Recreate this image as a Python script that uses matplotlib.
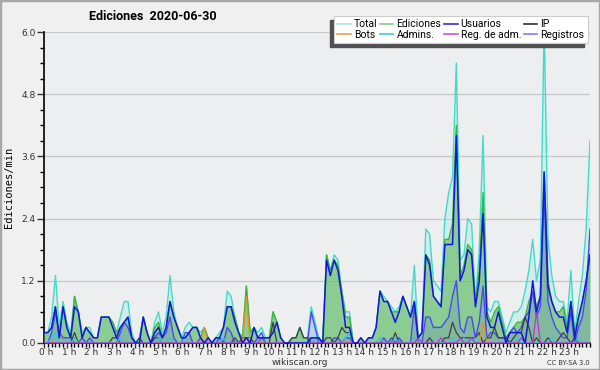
import numpy as np
import matplotlib
matplotlib.use("Agg")
import matplotlib.pyplot as plt
import matplotlib.transforms as mtransforms
from matplotlib.lines import Line2D
from matplotlib.patches import Rectangle
from matplotlib.ticker import MultipleLocator, FormatStrFormatter

# ediciones por minuto, promedio cada 10 minutos (144 puntos)
total = [0.2, 0.2, 0.5, 1.3, 0.3, 0.8, 0.4, 0.2, 0.9, 0.6, 0.2, 0.3,
         0.3, 0.1, 0.1, 0.5, 0.5, 0.5, 0.4, 0.2, 0.5, 0.8, 0.8, 0.2,
         0.0, 0.1, 0.5, 0.2, 0.0, 0.4, 0.6, 0.2, 0.5, 1.3, 0.6, 0.3,
         0.1, 0.3, 0.4, 0.3, 0.3, 0.2, 0.3, 0.1, 0.0, 0.1, 0.2, 0.3,
         1.0, 0.9, 0.5, 0.2, 0.1, 1.1, 0.2, 0.3, 0.2, 0.3, 0.1, 0.1,
         0.6, 0.4, 0.1, 0.0, 0.0, 0.1, 0.1, 0.3, 0.1, 0.1, 0.7, 0.4,
         0.1, 0.0, 1.7, 1.4, 1.7, 1.6, 1.0, 0.6, 0.6, 0.0, 0.0, 0.1,
         0.0, 0.1, 0.1, 0.3, 1.0, 0.9, 0.8, 0.7, 0.6, 0.7, 0.9, 0.7,
         0.5, 1.5, 0.1, 0.2, 2.2, 2.1, 1.2, 1.1, 1.0, 2.4, 2.9, 3.2,
         5.4, 1.6, 1.7, 2.4, 2.3, 0.8, 1.8, 4.0, 0.7, 0.6, 0.8, 0.8,
         0.5, 0.2, 0.4, 0.6, 0.6, 0.7, 1.0, 1.4, 2.0, 1.2, 1.6, 6.2,
         2.0, 1.3, 0.9, 0.8, 0.8, 0.4, 1.4, 0.2, 0.8, 1.3, 2.2, 3.9]
ediciones = [0.2, 0.2, 0.3, 0.7, 0.1, 0.7, 0.3, 0.1, 0.9, 0.6, 0.1, 0.3,
             0.2, 0.1, 0.1, 0.5, 0.5, 0.5, 0.4, 0.2, 0.3, 0.4, 0.5, 0.1,
             0.0, 0.1, 0.5, 0.2, 0.0, 0.3, 0.4, 0.1, 0.3, 0.8, 0.5, 0.3,
             0.1, 0.1, 0.2, 0.3, 0.3, 0.1, 0.3, 0.1, 0.0, 0.1, 0.1, 0.3,
             0.7, 0.7, 0.5, 0.2, 0.1, 1.1, 0.2, 0.3, 0.1, 0.1, 0.1, 0.1,
             0.6, 0.4, 0.1, 0.0, 0.0, 0.1, 0.1, 0.3, 0.1, 0.1, 0.1, 0.1,
             0.1, 0.0, 1.7, 1.4, 1.6, 1.5, 1.0, 0.5, 0.5, 0.0, 0.0, 0.1,
             0.0, 0.1, 0.1, 0.3, 1.0, 0.8, 0.8, 0.6, 0.6, 0.6, 0.9, 0.7,
             0.5, 0.8, 0.1, 0.2, 1.7, 1.6, 0.9, 0.8, 0.7, 2.0, 2.0, 2.3,
             4.2, 1.3, 1.5, 1.9, 1.8, 0.8, 1.4, 2.9, 0.6, 0.4, 0.6, 0.7,
             0.4, 0.1, 0.2, 0.3, 0.4, 0.4, 0.5, 0.8, 1.0, 0.7, 0.9, 3.3,
             1.2, 0.8, 0.6, 0.6, 0.7, 0.3, 0.8, 0.2, 0.5, 0.8, 1.2, 1.7]
usuarios = [0.2, 0.2, 0.3, 0.7, 0.1, 0.7, 0.3, 0.1, 0.7, 0.6, 0.1, 0.3,
            0.2, 0.1, 0.1, 0.5, 0.5, 0.5, 0.3, 0.1, 0.3, 0.4, 0.5, 0.1,
            0.0, 0.0, 0.5, 0.2, 0.0, 0.2, 0.3, 0.1, 0.3, 0.8, 0.5, 0.3,
            0.1, 0.1, 0.2, 0.3, 0.3, 0.1, 0.0, 0.1, 0.0, 0.1, 0.1, 0.3,
            0.7, 0.7, 0.4, 0.2, 0.0, 0.1, 0.0, 0.3, 0.1, 0.1, 0.1, 0.1,
            0.2, 0.4, 0.1, 0.0, 0.0, 0.0, 0.0, 0.0, 0.0, 0.0, 0.1, 0.1,
            0.1, 0.0, 1.6, 1.3, 1.6, 1.4, 0.9, 0.3, 0.3, 0.0, 0.0, 0.1,
            0.0, 0.1, 0.1, 0.3, 1.0, 0.8, 0.8, 0.6, 0.4, 0.6, 0.9, 0.7,
            0.5, 0.8, 0.1, 0.2, 1.7, 1.5, 0.9, 0.8, 0.7, 1.9, 1.9, 1.9,
            4.0, 1.2, 1.4, 1.8, 1.7, 0.7, 1.2, 2.5, 0.5, 0.3, 0.3, 0.6,
            0.3, 0.0, 0.2, 0.2, 0.2, 0.2, 0.0, 0.5, 1.2, 0.6, 0.9, 3.3,
            1.1, 0.8, 0.6, 0.5, 0.5, 0.2, 0.8, 0.1, 0.5, 0.8, 1.2, 1.7]
registros = [0.0, 0.0, 0.2, 0.6, 0.2, 0.1, 0.1, 0.1, 0.0, 0.0, 0.1, 0.0,
             0.1, 0.0, 0.0, 0.0, 0.0, 0.0, 0.0, 0.0, 0.2, 0.4, 0.3, 0.1,
             0.0, 0.0, 0.0, 0.0, 0.0, 0.1, 0.2, 0.1, 0.2, 0.5, 0.1, 0.0,
             0.0, 0.2, 0.2, 0.0, 0.0, 0.1, 0.0, 0.0, 0.0, 0.0, 0.1, 0.0,
             0.3, 0.2, 0.0, 0.0, 0.0, 0.0, 0.0, 0.0, 0.1, 0.2, 0.0, 0.0,
             0.0, 0.0, 0.0, 0.0, 0.0, 0.0, 0.0, 0.0, 0.0, 0.0, 0.6, 0.3,
             0.0, 0.0, 0.0, 0.0, 0.1, 0.1, 0.0, 0.1, 0.1, 0.0, 0.0, 0.0,
             0.0, 0.0, 0.0, 0.0, 0.0, 0.1, 0.0, 0.1, 0.0, 0.1, 0.0, 0.0,
             0.0, 0.7, 0.0, 0.0, 0.5, 0.5, 0.3, 0.3, 0.3, 0.4, 0.5, 0.9,
             1.2, 0.3, 0.2, 0.5, 0.5, 0.1, 0.4, 1.1, 0.1, 0.2, 0.2, 0.1,
             0.1, 0.1, 0.2, 0.3, 0.2, 0.3, 0.5, 0.6, 1.0, 0.5, 0.7, 2.9,
             0.8, 0.5, 0.3, 0.2, 0.1, 0.1, 0.6, 0.0, 0.3, 0.5, 1.0, 2.2]
ip = [0.0, 0.0, 0.0, 0.0, 0.0, 0.0, 0.0, 0.0, 0.2, 0.0, 0.0, 0.0,
      0.0, 0.0, 0.0, 0.0, 0.0, 0.0, 0.1, 0.1, 0.0, 0.0, 0.0, 0.0,
      0.0, 0.1, 0.0, 0.0, 0.0, 0.1, 0.1, 0.0, 0.0, 0.0, 0.0, 0.0,
      0.0, 0.0, 0.0, 0.0, 0.0, 0.0, 0.0, 0.0, 0.0, 0.0, 0.0, 0.0,
      0.0, 0.0, 0.1, 0.0, 0.1, 0.1, 0.1, 0.0, 0.0, 0.0, 0.0, 0.0,
      0.4, 0.0, 0.0, 0.0, 0.0, 0.1, 0.1, 0.3, 0.1, 0.1, 0.0, 0.0,
      0.0, 0.0, 0.1, 0.1, 0.0, 0.1, 0.3, 0.2, 0.2, 0.0, 0.0, 0.0,
      0.0, 0.0, 0.0, 0.0, 0.0, 0.0, 0.0, 0.0, 0.2, 0.0, 0.0, 0.0,
      0.0, 0.0, 0.0, 0.0, 0.0, 0.1, 0.0, 0.0, 0.0, 0.1, 0.1, 0.4,
      0.2, 0.1, 0.1, 0.1, 0.1, 0.1, 0.2, 0.0, 0.1, 0.1, 0.3, 0.1,
      0.1, 0.1, 0.0, 0.1, 0.2, 0.2, 0.5, 0.3, 0.0, 0.1, 0.0, 0.0,
      0.1, 0.0, 0.0, 0.1, 0.2, 0.1, 0.0, 0.1, 0.0, 0.0, 0.0, 0.0]
bots = [0.0] * 42 + [0.3] + [0.0] * 10 + [0.9] + [0.0] * 61 + [0.4] + [0.0] * 28
admins = [0.0, 0.0, 0.1, 0.2, 0.0, 0.0, 0.0, 0.0, 0.1, 0.0, 0.0, 0.0,
          0.0, 0.0, 0.0, 0.0, 0.0, 0.0, 0.0, 0.0, 0.1, 0.0, 0.0, 0.0,
          0.0, 0.0, 0.0, 0.0, 0.0, 0.0, 0.1, 0.0, 0.0, 0.1, 0.0, 0.0,
          0.0, 0.1, 0.0, 0.0, 0.0, 0.0, 0.0, 0.0, 0.0, 0.0, 0.0, 0.1,
          0.0, 0.0, 0.0, 0.0, 0.0, 0.0, 0.0, 0.0, 0.0, 0.1, 0.0, 0.0,
          0.0, 0.0, 0.0, 0.0, 0.0, 0.0, 0.0, 0.0, 0.0, 0.0, 0.1, 0.0,
          0.0, 0.0, 0.0, 0.0, 0.0, 0.0, 0.0, 0.1, 0.2, 0.0, 0.0, 0.0,
          0.0, 0.0, 0.0, 0.0, 0.1, 0.0, 0.0, 0.0, 0.1, 0.0, 0.0, 0.0,
          0.0, 0.1, 0.0, 0.0, 0.0, 0.0, 0.0, 0.0, 0.0, 0.0, 0.0, 0.1,
          0.0, 0.0, 0.1, 0.0, 0.0, 0.1, 0.0, 0.0, 0.0, 0.0, 0.0, 0.0,
          0.0, 0.0, 0.0, 0.0, 0.1, 0.0, 0.0, 0.0, 0.0, 0.0, 0.0, 0.0,
          0.0, 0.1, 0.0, 0.0, 0.0, 0.0, 0.0, 0.0, 0.1, 0.0, 0.0, 0.0]
reg_adm = [0.0] * 57 + [0.1] + [0.0] * 40 + [0.1] + [0.0] * 5 + [0.1] + [0.0] * 4 + \
          [0.1] + [0.0] * 2 + [0.1] + [0.0] * 12 + [0.1] + [0.0] * 3 + [0.6] + [0.0] * 14

hour_labels = [f"{h} h" for h in range(24)]
x = np.linspace(0, 24, len(total))

fig = plt.figure(figsize=(6, 3.7), dpi=100, facecolor="#f0f0f0")
ax = fig.add_axes([0.0733, 0.073, 0.91, 0.8405])
ax.set_facecolor("#eceef0")

# rellenos y lineas
ax.fill_between(x, total, color="#40e0d0", alpha=0.15, lw=0, zorder=1)
ax.plot(x, total, color="#40dcc8", lw=1.0, zorder=2)
ax.fill_between(x, ediciones, color="#6cc06c", alpha=0.7, lw=0, zorder=3)
ax.plot(x, ediciones, color="#3cb43c", lw=1.0, zorder=4)
ax.fill_between(x, registros, color="#4040f0", alpha=0.13, lw=0, zorder=5)
ax.plot(x, registros, color="#4a4af0", lw=1.0, zorder=6)
ax.plot(x, ip, color="#404040", lw=0.9, zorder=7)
ax.plot(x, bots, color="#f09020", lw=0.9, zorder=7)
ax.plot(x, admins, color="#30c8e8", lw=0.9, zorder=7)
ax.plot(x, reg_adm, color="#c030e0", lw=0.9, zorder=7)
ax.plot(x, usuarios, color="#1515e0", lw=1.1, zorder=8)

ax.set_xlim(0, 24)
ax.set_ylim(0, 6.0)
ax.set_xticks(range(24))
ax.set_xticklabels(hour_labels, fontsize=6.5)
ax.xaxis.set_minor_locator(MultipleLocator(1 / 6))
ax.yaxis.set_major_locator(MultipleLocator(1.2))
ax.yaxis.set_minor_locator(MultipleLocator(0.3))
ax.yaxis.set_major_formatter(FormatStrFormatter("%.1f"))
ax.tick_params(axis="y", labelsize=6.5, length=5, width=1, pad=1, colors="#333333")
ax.tick_params(axis="y", which="minor", length=3, width=1)
ax.tick_params(axis="x", length=3.5, width=1, pad=0, colors="#333333")
ax.tick_params(axis="x", which="minor", length=3, width=1)
shift = mtransforms.ScaledTranslation(2 / 100, 0, fig.dpi_scale_trans)
for t in ax.get_xticklabels():
    t.set_transform(t.get_transform() + shift)
ax.grid(axis="y", color="#c8c8c8", lw=0.9, zorder=0)
ax.set_axisbelow(True)
for s in ["top", "right"]:
    ax.spines[s].set_visible(False)
for s in ["left", "bottom"]:
    ax.spines[s].set_linewidth(1.2)
ax.set_ylabel("Ediciones/min", fontsize=7.5, family="DejaVu Sans Mono", labelpad=5)

fig.text(0.255, 0.955, "Ediciones  2020-06-30", fontsize=9, weight="bold",
         family="Roboto", ha="center", va="center")
fig.text(0.5, 0.021, "wikiscan.org", fontsize=6.5, color="#333333", ha="center", va="center")
fig.text(0.983, 0.018, "CC BY-SA 3.0", fontsize=4.8, color="#333333", ha="right", va="center")

names = ["Total", "Bots", "Ediciones", "Admins.", "Usuarios", "Reg. de adm.", "IP", "Registros"]
colors = ["#a8e8e0", "#f0a040", "#80d080", "#40c8e0", "#3030d0", "#d050e0", "#303030", "#8080f0"]
handles = [Line2D([], [], color=c, lw=1.2) for c in colors]
leg = fig.legend(handles, names, ncol=4, loc="upper right", bbox_to_anchor=(0.988, 0.97),
                 prop={"family": "Roboto", "size": 7.5}, handlelength=1.3,
                 handletextpad=0.3, columnspacing=0.25, labelspacing=0.05,
                 borderpad=0.3, fancybox=False, framealpha=1, edgecolor="#cccccc")
leg.get_frame().set_linewidth(0.8)

# sombra de la leyenda (abajo a la izquierda)
fig.canvas.draw()
bb = leg.get_window_extent().transformed(fig.transFigure.inverted())
dx, dy = 4 / 600, 4 / 370
fig.patches.append(Rectangle((bb.x0 - dx, bb.y0 - dy), bb.width, bb.height,
                             transform=fig.transFigure, color="#505050", zorder=4))

fig.patches.append(Rectangle((0, 0), 1, 1, transform=fig.transFigure, fill=False,
                             edgecolor="#a8a8a8", lw=2.5))

fig.savefig("out.png", dpi=100, facecolor=fig.get_facecolor())
